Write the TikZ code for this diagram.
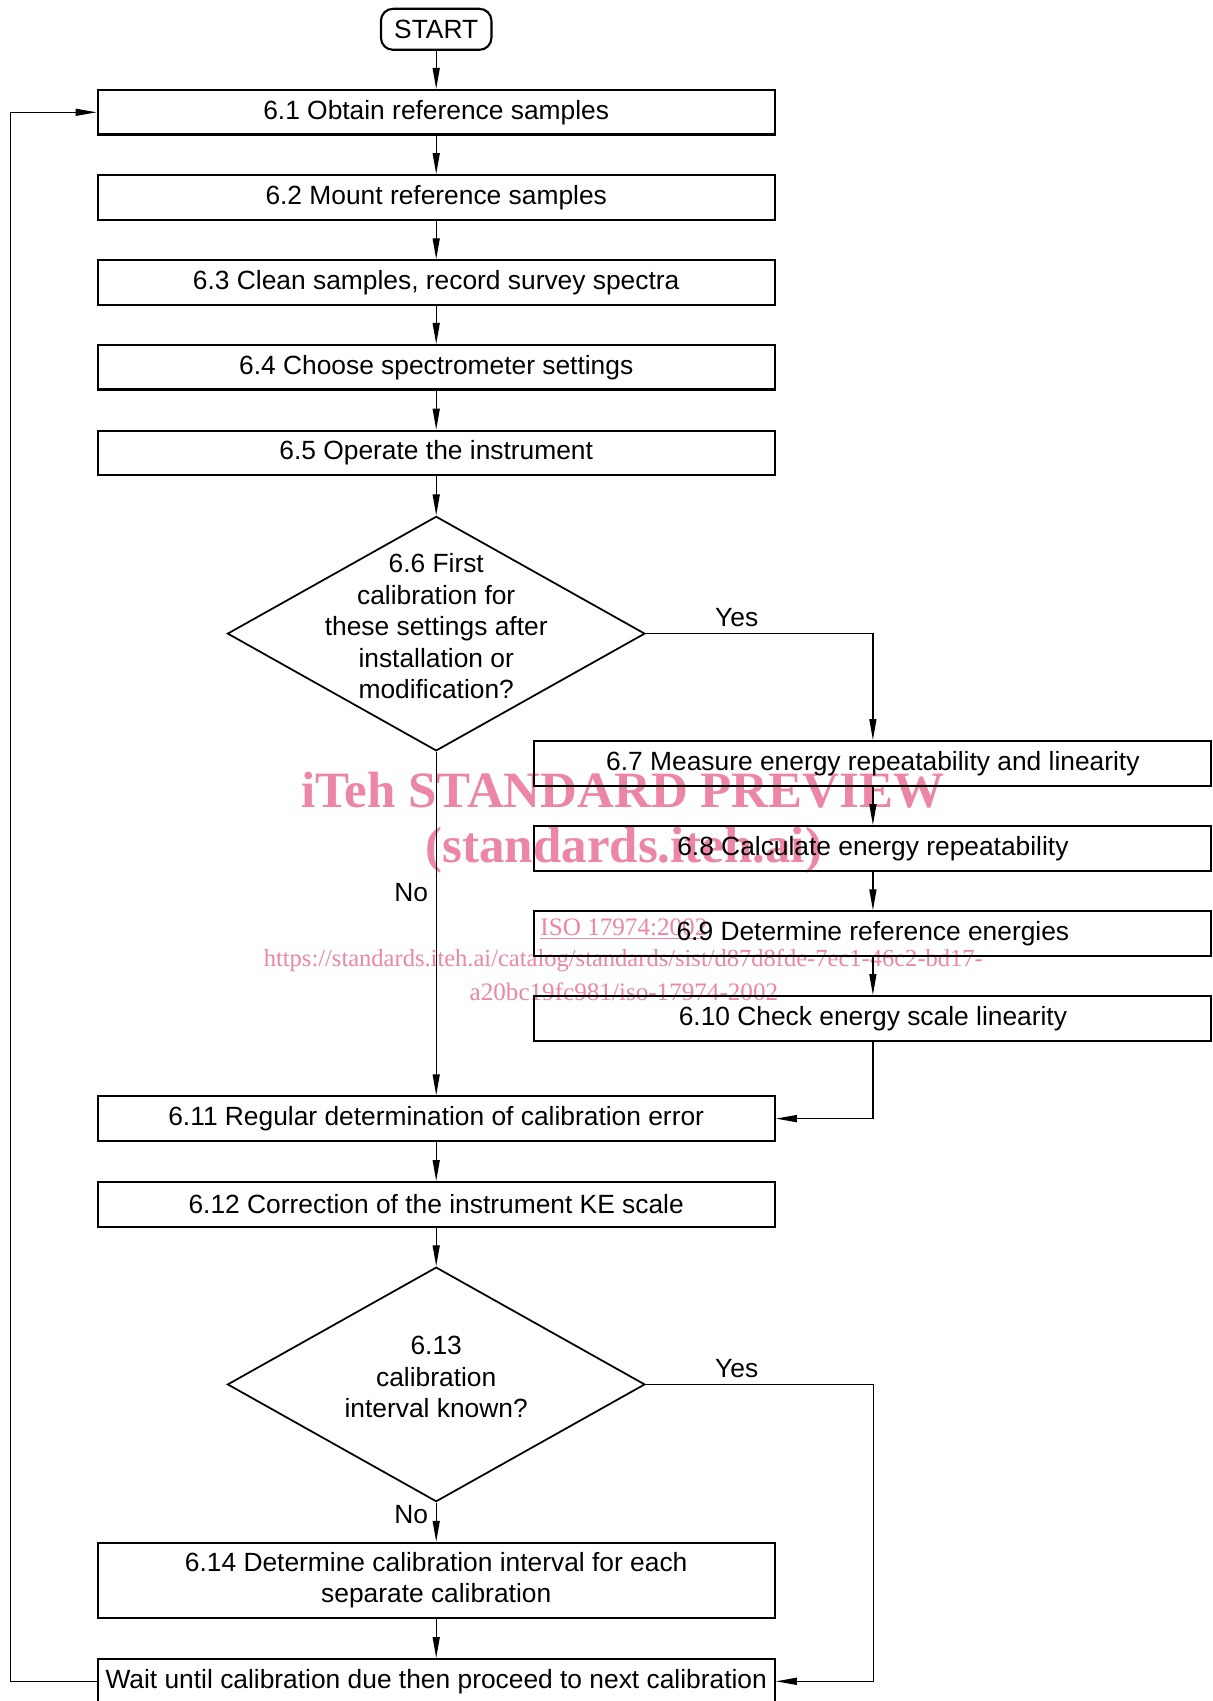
\documentclass[tikz,border=0pt]{standalone}
\usepackage{fontspec}
\setmainfont{Liberation Sans}
\newfontfamily\wmfont{Liberation Serif}
\usetikzlibrary{arrows.meta,shapes.geometric}
\definecolor{wmpink}{RGB}{237,133,164}

\begin{document}
\begin{tikzpicture}[
    x=0.2mm, y=-0.2mm,
    font=\fontsize{15}{18}\selectfont,
    proc node/.style={rectangle, draw=black, line width=1.2pt, minimum width=135.4mm, minimum height=8.9mm, inner sep=2pt, align=center},
    dec node/.style={diamond, draw=black, line width=1pt, minimum width=83.5mm, minimum height=46.9mm, aspect=1.78, inner sep=-5mm, align=center},
    start node/.style={rectangle, rounded corners=2.4mm, draw=black, line width=1.2pt, minimum width=22.1mm, minimum height=8.2mm, inner sep=1pt},
    ans node/.style={inner sep=2pt},
    wm node/.style={text=wmpink, inner sep=0pt},
    flow edge/.style={draw=black, line width=0.75pt, -{Triangle[length=4.2mm, width=1.4mm]}}
]
\useasboundingbox (0,0) rectangle (1213,1701);

% watermark (behind the chart)
\node[wm node, font=\wmfont\bfseries\fontsize{29}{34}\selectfont] (WM1) at (622.8, 790) {iTeh STANDARD PREVIEW};
\node[wm node, font=\wmfont\bfseries\fontsize{29}{34}\selectfont] (WM2) at (623.9, 850.6) {(standards.iteh.ai)};
\node[wm node, font=\wmfont\fontsize{14.3}{17}\selectfont] (WM3) at (623.9, 928.8) {\underline{ISO 17974:2002}};
\node[wm node, font=\wmfont\fontsize{13.95}{17}\selectfont] (WM4) at (623.3, 960.2) {https://standards.iteh.ai/catalog/standards/sist/d87d8fde-7ec1-46c2-bd17-};
\node[wm node, font=\wmfont\fontsize{14.3}{17}\selectfont] (WM5) at (623.9, 991.7) {a20bc19fc981/iso-17974-2002};

% main column
\node[start node] (Start) at (436.2, 29.3) {START};
\node[proc node] (S61) at (436.2, 112.3) {6.1 Obtain reference samples};
\node[proc node] (S62) at (436.2, 197.5) {6.2 Mount reference samples};
\node[proc node] (S63) at (436.2, 282.6) {6.3 Clean samples, record survey spectra};
\node[proc node] (S64) at (436.2, 367.3) {6.4 Choose spectrometer settings};
\node[proc node] (S65) at (436.2, 453.0) {6.5 Operate the instrument};
\node[dec node] (D66) at (436.2, 633.6) {6.6 First\\calibration for\\these settings after\\installation or\\modification?\rule[-3mm]{0pt}{0pt}};

% first calibration branch
\node[proc node] (S67) at (872.9, 763.3) {6.7 Measure energy repeatability and linearity};
\node[proc node] (S68) at (872.9, 848.4) {6.8 Calculate energy repeatability};
\node[proc node] (S69) at (872.9, 933.6) {6.9 Determine reference energies};
\node[proc node] (S610) at (872.9, 1018.3) {6.10 Check energy scale linearity};

\node[proc node] (S611) at (436.2, 1118.6) {6.11 Regular determination of calibration error};
\node[proc node] (S612) at (436.2, 1204.3) {6.12 Correction of the instrument KE scale};
\node[dec node] (D613) at (436.2, 1384.4) {6.13\\calibration\\interval known?\rule[-3mm]{0pt}{0pt}};
\node[proc node, minimum height=15mm] (S614) at (436.2, 1580.3) {6.14 Determine calibration interval for each\\separate calibration};
\node[proc node] (Wait) at (436.2, 1681.3) {Wait until calibration due then proceed to next calibration};

% answers
\node[ans node] (Y66) at (736.7, 617.3) {Yes};
\node[ans node] (N66) at (411.2, 892.9) {No};
\node[ans node] (Y613) at (736.7, 1368.2) {Yes};
\node[ans node] (N613) at (411.2, 1514.6) {No};

% bends
\coordinate (R613) at (873.4, 1580);
\coordinate (Back) at (10.8, 900);

% connectors
\foreach \a/\b in {Start/S61, S61/S62, S62/S63, S63/S64, S64/S65, S65/D66, S67/S68, S68/S69, S69/S610, S611/S612, S612/D613, S614/Wait}
    \draw[flow edge] (\a) -- (\b);

\draw[flow edge] (D66.east) -| (S67.north);
\draw[flow edge] (D66.south) -- (S611.north);
\draw[flow edge] (S610.south) |- (S611.east);
\draw[flow edge] (D613.south) -- (S614.north);
\draw[flow edge] (D613.east) -| (R613) |- (Wait.east);
\draw[flow edge] (Wait.west) -| (Back) |- (S61.west);

\end{tikzpicture}
\end{document}
